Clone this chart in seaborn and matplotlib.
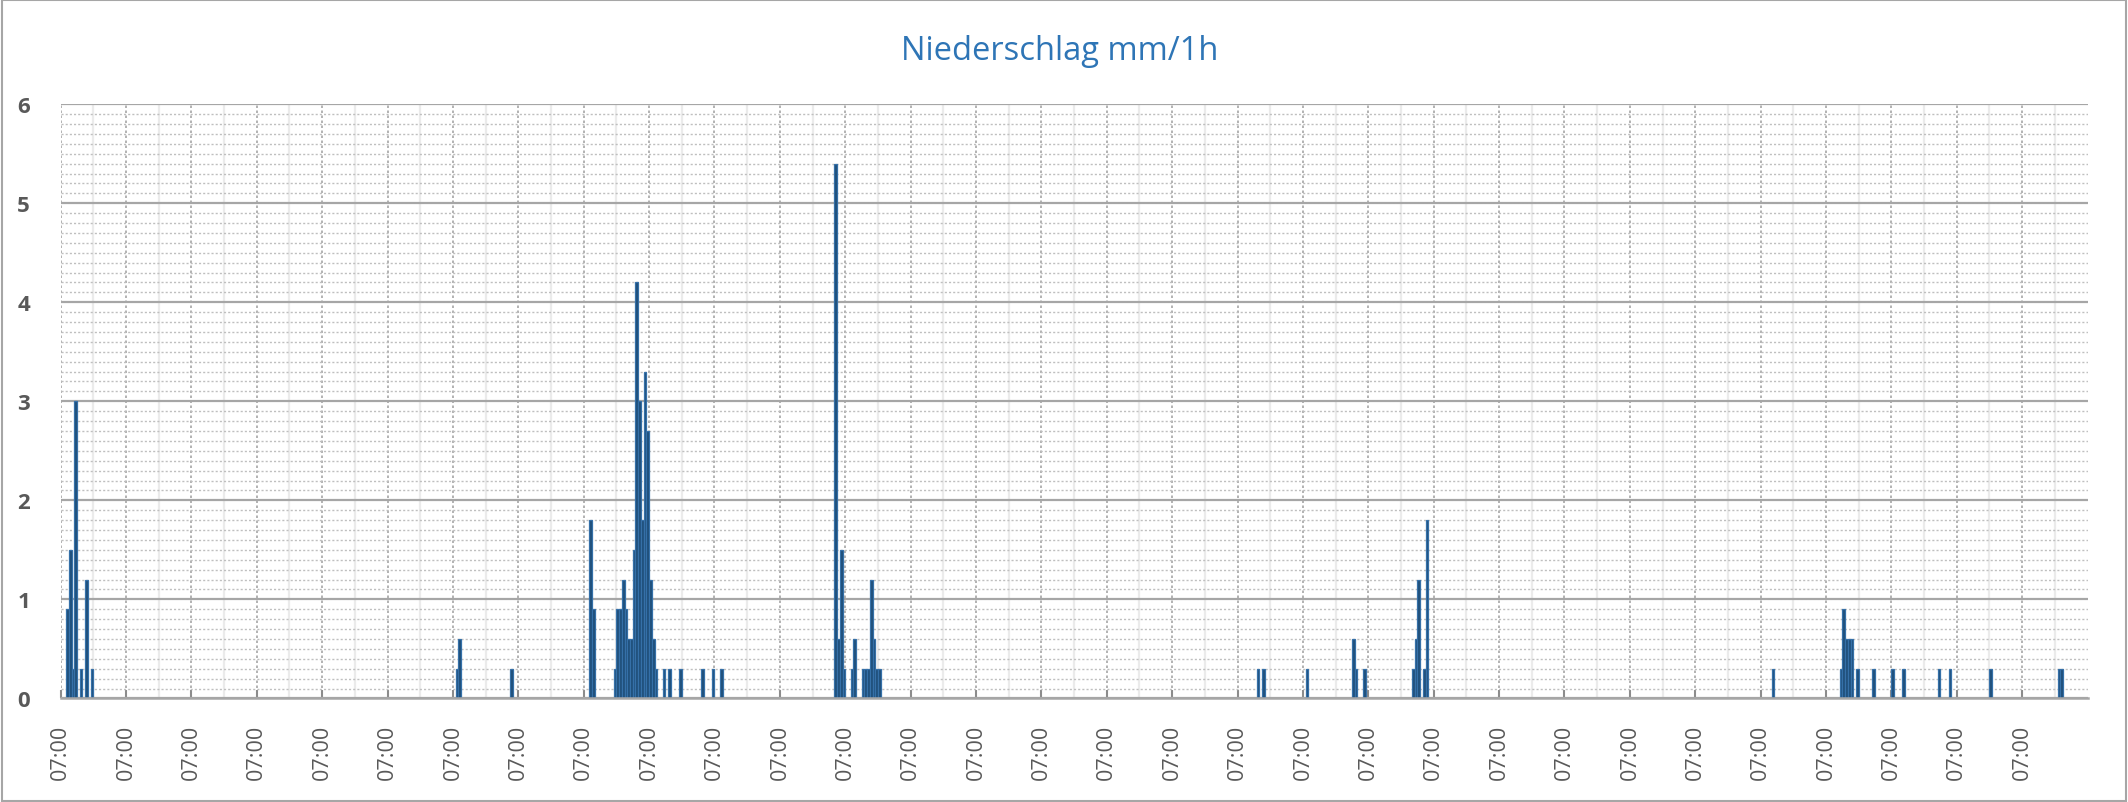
import numpy as np
import pandas as pd
import matplotlib
matplotlib.use("Agg")
import matplotlib.pyplot as plt
from matplotlib.patches import Rectangle
from matplotlib.ticker import MultipleLocator, FixedLocator
import seaborn as sns

# ---- data: hour offset from first 07:00 and precipitation (mm/1h) ----
rain_hours = [2, 3, 4, 5, 7, 9, 11,
              145, 146, 165, 194, 195,
              203, 204, 205, 206, 207, 208, 209, 210, 211, 212, 213, 214, 215, 216, 217, 218,
              221, 223, 227, 235, 239, 242,
              284, 285, 286, 287, 290, 291, 294, 295, 296, 297, 298, 299, 300,
              439, 441, 457, 474, 475, 478,
              496, 497, 498, 500, 501,
              628, 653, 654, 655, 656, 657, 659, 665, 672, 676, 689, 693, 708, 733, 734]
rain_mm = [0.9, 1.5, 0.3, 3.0, 0.3, 1.2, 0.3,
           0.3, 0.6, 0.3, 1.8, 0.9,
           0.3, 0.9, 0.9, 1.2, 0.9, 0.6, 0.6, 1.5, 4.2, 3.0, 1.8, 3.3, 2.7, 1.2, 0.6, 0.3,
           0.3, 0.3, 0.3, 0.3, 0.3, 0.3,
           5.4, 0.6, 1.5, 0.3, 0.3, 0.6, 0.3, 0.3, 0.3, 1.2, 0.6, 0.3, 0.3,
           0.3, 0.3, 0.3, 0.6, 0.3, 0.3,
           0.3, 0.6, 1.2, 0.3, 1.8,
           0.3, 0.3, 0.9, 0.6, 0.6, 0.6, 0.3, 0.3, 0.3, 0.3, 0.3, 0.3, 0.3, 0.3, 0.3]
total_hours = 744
day_labels = ["07:00"] * 31
title = "Niederschlag mm/1h"
y_ticks = [0, 1, 2, 3, 4, 5, 6]

df = pd.DataFrame({"hour": rain_hours, "mm": rain_mm})

sns.set_theme(style="white")
plt.rcParams["font.family"] = ["Open Sans", "DejaVu Sans"]

fig = plt.figure(figsize=(21.28, 8.03), dpi=100)
ax = fig.add_axes([0.0285, 0.1290, 0.9525, 0.7400])

sns.barplot(data=df, x="hour", y="mm", native_scale=True, width=1.0,
            color="#1F4E79", edgecolor="#3570A8", linewidth=0.9,
            saturation=1, ax=ax, zorder=3)

ax.set_xlim(-0.5, total_hours - 0.5)
ax.set_ylim(0, 6)

day_pos = [-0.5 + 24 * i for i in range(len(day_labels))]
half_pos = [11.5 + 24 * i for i in range(len(day_labels))]
ax.xaxis.set_major_locator(FixedLocator(day_pos))
ax.set_xticklabels(day_labels, rotation=90, color="#595959", fontsize=15.5)
ax.xaxis.set_minor_locator(FixedLocator(half_pos))
ax.set_yticks(y_ticks)
ax.set_yticklabels([str(v) for v in y_ticks], fontweight="bold", color="#595959", fontsize=16)
ax.yaxis.set_minor_locator(MultipleLocator(0.1))

ax.tick_params(axis="x", which="major", direction="in", length=6, width=1.5,
               color="#8C8C8C", pad=18, bottom=True)
ax.tick_params(axis="x", which="minor", length=0)
ax.tick_params(axis="y", which="both", length=0, pad=22)

ax.set_axisbelow(True)
ax.grid(which="major", axis="y", color="#A6A6A6", linewidth=1.6, linestyle="-")
ax.grid(which="minor", axis="y", color="#BFBFBF", linewidth=1.0, linestyle=(0, (1.5, 1.5)))
ax.grid(which="major", axis="x", color="#A6A6A6", linewidth=1.2, linestyle=(0, (1.5, 1.5)))
ax.grid(which="minor", axis="x", color="#EBEBEB", linewidth=1.6, linestyle="-")

for s in ["top", "right", "left"]:
    ax.spines[s].set_visible(False)
ax.spines["bottom"].set_color("#A6A6A6")
ax.spines["bottom"].set_linewidth(1.8)
ax.spines["bottom"].set_zorder(4)

ax.set_xlabel("")
ax.set_ylabel("")

fig.text(0.498, 0.936, title, ha="center", va="center", color="#2E75B6", fontsize=23.5)

fig.patches.append(Rectangle((0.0008, 0.0012), 0.9984, 0.9976, transform=fig.transFigure,
                             fill=False, edgecolor="#A6A6A6", linewidth=1.5))

fig.savefig("out.png", dpi=100)
